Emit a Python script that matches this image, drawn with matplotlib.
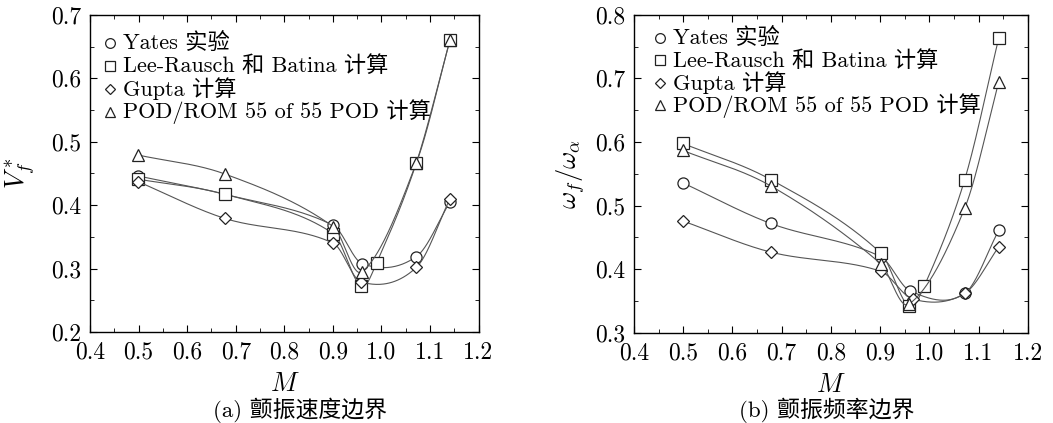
# -*- coding: utf-8 -*-
"""
颤振边界对比图 (a) 速度边界 (b) 频率边界
"""

import numpy as np
import matplotlib
matplotlib.use('Agg')
import matplotlib.pyplot as plt
from matplotlib.ticker import MultipleLocator

plt.rcParams['font.family'] = ['cmr10', 'Noto Sans CJK SC', 'DejaVu Serif']
plt.rcParams['mathtext.fontset'] = 'cm'
plt.rcParams['axes.unicode_minus'] = False
plt.rcParams['axes.formatter.use_mathtext'] = True

labels = ['Yates 实验', 'Lee-Rausch 和 Batina 计算', 'Gupta 计算', 'POD/ROM 55 of 55 POD 计算']
markers = ['o', 's', 'D', '^']

# (a) 颤振速度 V_f*
m_yates_a = [0.499, 0.678, 0.901, 0.960, 1.072, 1.141]
v_yates_a = [0.446, 0.417, 0.368, 0.308, 0.319, 0.405]
m_lee_a = [0.499, 0.678, 0.901, 0.958, 0.990, 1.072, 1.141]
v_lee_a = [0.441, 0.417, 0.355, 0.272, 0.309, 0.467, 0.660]
m_gupta_a = [0.499, 0.678, 0.901, 0.958, 1.072, 1.141]
v_gupta_a = [0.437, 0.379, 0.340, 0.279, 0.302, 0.410]
m_pod_a = [0.499, 0.678, 0.901, 0.960, 1.072, 1.141]
v_pod_a = [0.479, 0.449, 0.366, 0.295, 0.467, 0.660]

# (b) 颤振频率 omega_f / omega_alpha
m_yates_b = [0.499, 0.678, 0.901, 0.961, 1.072, 1.141]
w_yates_b = [0.536, 0.472, 0.420, 0.366, 0.362, 0.461]
m_lee_b = [0.499, 0.678, 0.901, 0.958, 0.990, 1.072, 1.141]
w_lee_b = [0.598, 0.541, 0.426, 0.342, 0.374, 0.541, 0.763]
m_gupta_b = [0.499, 0.678, 0.901, 0.967, 1.072, 1.141]
w_gupta_b = [0.476, 0.427, 0.397, 0.353, 0.362, 0.435]
m_pod_b = [0.499, 0.678, 0.901, 0.958, 1.072, 1.141]
w_pod_b = [0.587, 0.531, 0.409, 0.345, 0.496, 0.694]


def smooth(x, y, n=60):
    """三次 Hermite 曲线 (有限差分切线), 只用于画光滑连线"""
    x = np.asarray(x, float)
    y = np.asarray(y, float)
    k = len(x)
    d = np.diff(y) / np.diff(x)
    m = np.zeros(k)
    m[0], m[-1] = d[0], d[-1]
    for i in range(1, k - 1):
        m[i] = (y[i + 1] - y[i - 1]) / (x[i + 1] - x[i - 1])
    xs_all, ys_all = [], []
    for i in range(k - 1):
        h = x[i + 1] - x[i]
        t = np.linspace(0, 1, n)
        h00 = 2 * t ** 3 - 3 * t ** 2 + 1
        h10 = t ** 3 - 2 * t ** 2 + t
        h01 = -2 * t ** 3 + 3 * t ** 2
        h11 = t ** 3 - t ** 2
        xs_all.append(x[i] + t * h)
        ys_all.append(h00 * y[i] + h10 * h * m[i] + h01 * y[i + 1] + h11 * h * m[i + 1])
    return np.concatenate(xs_all), np.concatenate(ys_all)


def draw(ax, series, ylim, ylabel, ypad, leg):
    for (mx, vy), mk in zip(series, markers):
        xs, ys = smooth(mx, vy)
        ax.plot(xs, ys, color='#555555', lw=0.8)
        ms = 6.5 if mk == 'D' else 8
        ax.plot(mx, vy, linestyle='none', marker=mk, ms=ms, mfc='white',
                mec='#222222', mew=0.9)
    ax.set_xlim(0.4, 1.2)
    ax.set_ylim(*ylim)
    ax.xaxis.set_major_locator(MultipleLocator(0.1))
    ax.xaxis.set_minor_locator(MultipleLocator(0.05))
    ax.yaxis.set_major_locator(MultipleLocator(0.1))
    ax.yaxis.set_minor_locator(MultipleLocator(0.05))
    ax.xaxis.set_major_formatter(plt.FuncFormatter(lambda v, p: '%.1f' % v))
    ax.yaxis.set_major_formatter(plt.FuncFormatter(lambda v, p: '%.1f' % v))
    ax.tick_params(which='both', direction='in', top=True, right=True, labelsize=17)
    ax.tick_params(which='major', length=5)
    ax.tick_params(which='minor', length=3)
    ax.tick_params(axis='x', pad=7)
    ax.tick_params(axis='y', pad=6)
    for s in ax.spines.values():
        s.set_linewidth(1.0)
    ax.set_xlabel('$M$', fontsize=19, labelpad=6)
    ax.set_ylabel(ylabel, fontsize=19, labelpad=ypad)

    # 图例: 手动排布, 与原图行距一致
    mx0, tx0, y0, dy = leg
    for i, (mk, lb) in enumerate(zip(markers, labels)):
        yy = y0 - i * dy
        ms = 5.5 if mk == 'D' else 7
        ax.plot([mx0], [yy], transform=ax.transAxes, linestyle='none', marker=mk,
                ms=ms, mfc='white', mec='#222222', mew=0.9, clip_on=False)
        ax.text(tx0, yy, lb, transform=ax.transAxes, ha='left', va='center',
                fontsize=16)


fig = plt.figure(figsize=(10.53, 4.23), dpi=100)
ax1 = fig.add_axes([0.0855, 0.215, 0.369, 0.75])
ax2 = fig.add_axes([0.602, 0.213, 0.374, 0.752])

draw(ax1, [(m_yates_a, v_yates_a), (m_lee_a, v_lee_a), (m_gupta_a, v_gupta_a),
           (m_pod_a, v_pod_a)], (0.2, 0.7), '$V_f^*$', 10,
     (0.051, 0.085, 0.912, 0.0726))
draw(ax2, [(m_yates_b, w_yates_b), (m_lee_b, w_lee_b), (m_gupta_b, w_gupta_b),
           (m_pod_b, w_pod_b)], (0.3, 0.8), r'$\omega_f/\omega_\alpha$', 6,
     (0.066, 0.099, 0.928, 0.0708))

fig.text(0.285, 0.030, '(a) 颤振速度边界', ha='center', va='center', fontsize=16.5)
fig.text(0.785, 0.030, '(b) 颤振频率边界', ha='center', va='center', fontsize=16.5)

fig.savefig('out.png', dpi=100)
